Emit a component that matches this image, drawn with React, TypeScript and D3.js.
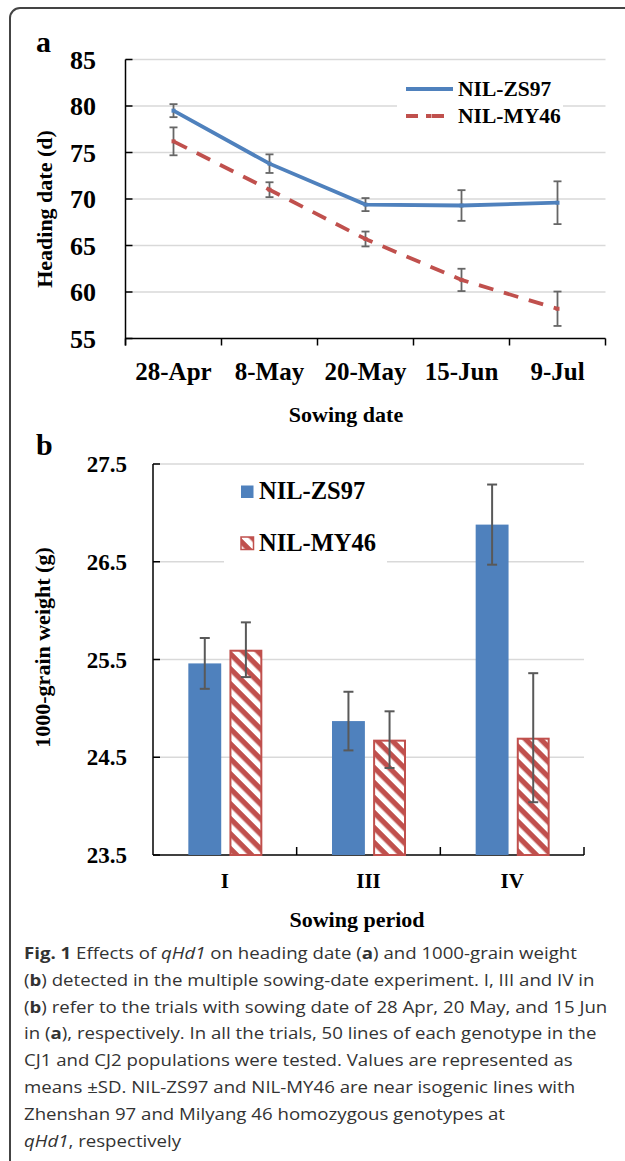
import React from "react";
import * as d3 from "d3";

// panel a: heading date
const sowingDates = ["28-Apr", "8-May", "20-May", "15-Jun", "9-Jul"];
const zs97Heading = [79.5, 73.8, 69.4, 69.3, 69.6];
const zs97HeadingSd = [0.7, 1.0, 0.7, 1.65, 2.3];
const my46Heading = [76.2, 71.0, 65.7, 61.3, 58.2];
const my46HeadingSd = [1.5, 0.8, 0.8, 1.2, 1.85];
const headingTicks = [55, 60, 65, 70, 75, 80, 85];

// panel b: 1000-grain weight
const periods = ["I", "III", "IV"];
const zs97Grain = [25.46, 24.87, 26.88];
const zs97GrainSd = [0.26, 0.3, 0.41];
const my46Grain = [25.6, 24.68, 24.7];
const my46GrainSd = [0.28, 0.29, 0.66];
const grainTicks = [23.5, 24.5, 25.5, 26.5, 27.5];

const seriesNames = ["NIL-ZS97", "NIL-MY46"];

const BLUE = "#4F81BD";
const RED = "#C0504D";
const GRID = "#D9D9D9";
const ERR = "#666666";
const SERIF = "'Liberation Serif', 'Times New Roman', serif";
const SANS = "'Open Sans', 'Noto Sans', sans-serif";

const W = 625;
const H = 1161;

const HeadingPanel = () => {
  const x = d3.scaleBand().domain(sowingDates).range([125.5, 605.5]).padding(0);
  const y = d3.scaleLinear().domain([55, 85]).range([338.5, 59.5]);
  const cx = (d: string) => (x(d) as number) + x.bandwidth() / 2;

  const series = [
    { name: seriesNames[0], vals: zs97Heading, sd: zs97HeadingSd, color: BLUE, dash: null },
    { name: seriesNames[1], vals: my46Heading, sd: my46HeadingSd, color: RED, dash: "15 11" },
  ];
  const line = d3
    .line<number>()
    .x((_, i) => cx(sowingDates[i]))
    .y((v) => y(v));

  const [x0, x1] = x.range();
  const boundaries = sowingDates.map((d) => x(d) as number).concat([x1]);

  return (
    <g>
      <text x={36} y={52} fontFamily={SERIF} fontWeight="bold" fontSize={30}>a</text>
      {headingTicks.slice(1).map((t) => (
        <line key={t} x1={x0} x2={x1} y1={y(t)} y2={y(t)} stroke={GRID} strokeWidth={1.5} />
      ))}
      {/* legend box hides grid */}
      <rect x={397} y={72} width={166} height={62} fill="#fff" />
      {/* axes */}
      <line x1={x0} x2={x0} y1={y(85)} y2={y(55) + 7} stroke="#000" strokeWidth={1.5} />
      <line x1={x0} x2={x1} y1={y(55)} y2={y(55)} stroke="#000" strokeWidth={1.5} />
      {headingTicks.map((t) => (
        <g key={t}>
          <line x1={x0} x2={x0 + 7} y1={y(t)} y2={y(t)} stroke="#000" strokeWidth={1.5} />
          <text x={96} y={y(t) + 9} textAnchor="end" fontFamily={SERIF} fontWeight="bold" fontSize={26}>
            {t}
          </text>
        </g>
      ))}
      {boundaries.map((b, i) => (
        <line key={i} x1={b} x2={b} y1={y(55)} y2={y(55) + 7} stroke="#000" strokeWidth={1.5} />
      ))}
      {sowingDates.map((d) => (
        <text key={d} x={cx(d)} y={380} textAnchor="middle" fontFamily={SERIF} fontWeight="bold" fontSize={25}>
          {d}
        </text>
      ))}
      <text x={346} y={422} textAnchor="middle" fontFamily={SERIF} fontWeight="bold" fontSize={22}>
        Sowing date
      </text>
      <text
        transform={`translate(52,${(y(55) + y(85)) / 2 + 10}) rotate(-90)`}
        textAnchor="middle"
        fontFamily={SERIF}
        fontWeight="bold"
        fontSize={22}
      >
        Heading date (d)
      </text>
      {/* series */}
      {series.map((s) => (
        <g key={s.name}>
          <path
            d={line(s.vals) as string}
            fill="none"
            stroke={s.color}
            strokeWidth={3.8}
            strokeDasharray={s.dash || undefined}
          />
          {s.vals.map((v, i) => {
            const px = cx(sowingDates[i]);
            return (
              <g key={i}>
                <line x1={px} x2={px} y1={y(v - s.sd[i])} y2={y(v + s.sd[i])} stroke={ERR} strokeWidth={1.8} />
                <line x1={px - 4} x2={px + 4} y1={y(v - s.sd[i])} y2={y(v - s.sd[i])} stroke={ERR} strokeWidth={1.8} />
                <line x1={px - 4} x2={px + 4} y1={y(v + s.sd[i])} y2={y(v + s.sd[i])} stroke={ERR} strokeWidth={1.8} />
                <rect x={px - 2} y={y(v) - 2} width={4} height={4} fill={s.color} />
              </g>
            );
          })}
        </g>
      ))}
      {/* legend */}
      {series.map((s, i) => (
        <g key={s.name} transform={`translate(0,${89 + i * 27})`}>
          <line
            x1={406}
            x2={453}
            y1={0}
            y2={0}
            stroke={s.color}
            strokeWidth={3.8}
            strokeDasharray={s.dash ? "12 8 3 3 12" : undefined}
          />
          <rect x={427.5} y={-2} width={4} height={4} fill={s.color} />
          <text x={458} y={7} fontFamily={SERIF} fontWeight="bold" fontSize={21.5}>
            {s.name}
          </text>
        </g>
      ))}
    </g>
  );
};

const GrainPanel = () => {
  const x = d3.scaleBand().domain(periods).range([153, 584]).padding(0);
  const y = d3.scaleLinear().domain([23.5, 27.5]).range([855, 464]);
  const inner = d3
    .scaleBand()
    .domain(seriesNames)
    .range([x.bandwidth() / 2 - 36.5, x.bandwidth() / 2 + 37.5])
    .paddingInner(0.2);

  const series = [
    { name: seriesNames[0], vals: zs97Grain, sd: zs97GrainSd, fill: BLUE },
    { name: seriesNames[1], vals: my46Grain, sd: my46GrainSd, fill: "url(#hatch)" },
  ];
  const [x0, x1] = x.range();

  return (
    <g>
      <defs>
        <pattern id="hatch" patternUnits="userSpaceOnUse" width={10.6} height={10.6} patternTransform="rotate(45)">
          <rect width={10.6} height={10.6} fill="#fff" />
          <rect width={10.6} height={5.3} fill={RED} />
        </pattern>
      </defs>
      <text x={36} y={455} fontFamily={SERIF} fontWeight="bold" fontSize={30}>b</text>
      {grainTicks.slice(1).map((t) => (
        <line key={t} x1={x0} x2={x1} y1={y(t)} y2={y(t)} stroke={GRID} strokeWidth={1.5} />
      ))}
      <rect x={224} y={472} width={163} height={95} fill="#fff" />
      <line x1={x0} x2={x0} y1={y(27.5)} y2={y(23.5)} stroke="#000" strokeWidth={1.5} />
      <line x1={x0} x2={x1} y1={y(23.5)} y2={y(23.5)} stroke="#000" strokeWidth={1.5} />
      {grainTicks.map((t) => (
        <g key={t}>
          <line x1={x0} x2={x0 + 7} y1={y(t)} y2={y(t)} stroke="#000" strokeWidth={1.5} />
          <text x={127} y={y(t) + 8} textAnchor="end" fontFamily={SERIF} fontWeight="bold" fontSize={23}>
            {t.toFixed(1)}
          </text>
        </g>
      ))}
      {periods.map((p) => (
        <line
          key={p}
          x1={(x(p) as number) + x.bandwidth()}
          x2={(x(p) as number) + x.bandwidth()}
          y1={y(23.5)}
          y2={y(23.5) - 8}
          stroke="#000"
          strokeWidth={1.5}
        />
      ))}
      {series.map((s, si) => (
        <g key={s.name}>
          {s.vals.map((v, i) => {
            const bx = (x(periods[i]) as number) + (inner(s.name) as number);
            const bw = inner.bandwidth();
            return (
              <rect
                key={i}
                x={si === 1 ? bx + 1 : bx}
                y={si === 1 ? y(v) + 1 : y(v)}
                width={si === 1 ? bw - 2 : bw}
                height={si === 1 ? y(23.5) - y(v) - 1 : y(23.5) - y(v)}
                fill={s.fill}
                stroke={si === 1 ? RED : "none"}
                strokeWidth={2}
              />
            );
          })}
        </g>
      ))}
      {/* error bars */}
      {series.map((s) =>
        s.vals.map((v, i) => {
          const px = (x(periods[i]) as number) + (inner(s.name) as number) + inner.bandwidth() / 2;
          const lo = y(v - s.sd[i]);
          const hi = y(v + s.sd[i]);
          return (
            <g key={s.name + i}>
              <line x1={px} x2={px} y1={lo} y2={hi} stroke="#595959" strokeWidth={2} />
              <line x1={px - 5} x2={px + 5} y1={lo} y2={lo} stroke="#595959" strokeWidth={2} />
              <line x1={px - 5} x2={px + 5} y1={hi} y2={hi} stroke="#595959" strokeWidth={2} />
            </g>
          );
        })
      )}
      {periods.map((p) => (
        <text
          key={p}
          x={(x(p) as number) + x.bandwidth() / 2}
          y={888}
          textAnchor="middle"
          fontFamily={SERIF}
          fontWeight="bold"
          fontSize={21}
        >
          {p}
        </text>
      ))}
      <text x={357} y={927} textAnchor="middle" fontFamily={SERIF} fontWeight="bold" fontSize={22}>
        Sowing period
      </text>
      <text
        transform={`translate(50,${(y(23.5) + y(27.5)) / 2 - 12}) rotate(-90)`}
        textAnchor="middle"
        fontFamily={SERIF}
        fontWeight="bold"
        fontSize={22}
      >
        1000-grain weight (g)
      </text>
      {/* legend */}
      {series.map((s, i) => (
        <g key={s.name} transform={`translate(0,${485 + i * 51.5})`}>
          <rect x={241} y={0.5} width={12.5} height={12.5} fill={s.fill} stroke={i === 1 ? RED : "none"} strokeWidth={1.5} />
          <text x={259} y={14} fontFamily={SERIF} fontWeight="bold" fontSize={24.5}>
            {s.name}
          </text>
        </g>
      ))}
    </g>
  );
};

const Caption = () => {
  const b = (t: string) => <tspan fontWeight="bold">{t}</tspan>;
  const it = (t: string) => <tspan fontStyle="italic">{t}</tspan>;
  const lines: React.ReactNode[] = [
    <>{b("Fig. 1")} Effects of {it("qHd1")} on heading date ({b("a")}) and 1000-grain weight</>,
    <>({b("b")}) detected in the multiple sowing-date experiment. I, III and IV in</>,
    <>({b("b")}) refer to the trials with sowing date of 28 Apr, 20 May, and 15 Jun</>,
    <>in ({b("a")}), respectively. In all the trials, 50 lines of each genotype in the</>,
    <>CJ1 and CJ2 populations were tested. Values are represented as</>,
    <>means ±SD. NIL-ZS97 and NIL-MY46 are near isogenic lines with</>,
    <>Zhenshan 97 and Milyang 46 homozygous genotypes at</>,
    <>{it("qHd1")}, respectively</>,
  ];
  return (
    <g fontFamily={SANS} fontSize={16.8} fill="#333">
      {lines.map((l, i) => (
        <text key={i} x={0} y={0} transform={`translate(24,${959 + i * 26.8}) scale(1.11,1)`}>
          {l}
        </text>
      ))}
    </g>
  );
};

export default function App() {
  return (
    <svg
      width={W}
      height={H}
      viewBox={`0 0 ${W} ${H}`}
      style={{ position: "absolute", left: 0, top: 0, background: "#fff" }}
    >
      <rect x={0} y={0} width={W} height={H} fill="#fff" />
      <rect x={10} y={8} width={624} height={1162} rx={10} fill="none" stroke="#444" strokeWidth={2} />
      <HeadingPanel />
      <GrainPanel />
      <Caption />
    </svg>
  );
}
